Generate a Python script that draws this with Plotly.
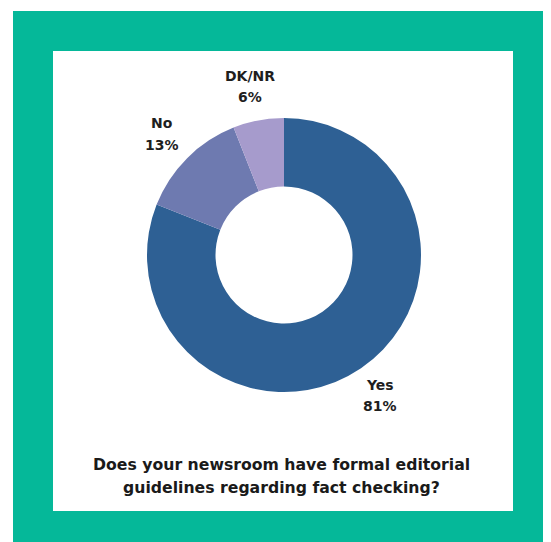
import plotly.graph_objects as go

labels = ["Yes", "No", "DK/NR"]
values = [81, 13, 6]
colors = ["#2e6094", "#6e7ab0", "#a69bcc"]
title_lines = ["Does your newsroom have formal editorial",
               "guidelines regarding fact checking?"]

W, H = 551, 542
OFF = 8  # page body margin offset
# label anchor positions in pixels (center x, y of first line)
label_pos = [(380, 384.5), (162, 123.5), (250, 75.5)]
title_pos = [(281, 464), (281, 487)]

def px(x):
    return (x - OFF) / W

def py(y):
    return (H - (y - OFF)) / H

fig = go.Figure()
fig.add_trace(go.Pie(
    labels=labels, values=values, sort=False, direction="clockwise",
    rotation=0, hole=0.5, textinfo="none", hoverinfo="label+percent",
    marker=dict(colors=colors, line=dict(width=0)),
    domain=dict(x=[px(147), px(421)], y=[py(392), py(118)]),
    showlegend=False,
))

shapes = [
    dict(type="rect", xref="paper", yref="paper", x0=px(13), x1=1.05,
         y0=-0.05, y1=py(11), fillcolor="#05b899", line=dict(width=0), layer="below"),
    dict(type="rect", xref="paper", yref="paper", x0=px(53), x1=px(513),
         y0=py(511), y1=py(51), fillcolor="white", line=dict(width=0), layer="below"),
]

annotations = []
lab_font = dict(family="DejaVu Sans", size=14, color="#1e1e1e", weight="bold")
for lab, val, (x, y) in zip(labels, values, label_pos):
    annotations.append(dict(text=lab, x=px(x), y=py(y), xref="paper", yref="paper",
                            showarrow=False, xanchor="center", yanchor="middle", font=lab_font))
    annotations.append(dict(text=f"{val}%", x=px(x), y=py(y + 21.5), xref="paper", yref="paper",
                            showarrow=False, xanchor="center", yanchor="middle", font=lab_font))
for t, (x, y) in zip(title_lines, title_pos):
    annotations.append(dict(text=t, x=px(x), y=py(y), xref="paper", yref="paper",
                            showarrow=False, xanchor="center", yanchor="middle",
                            font=dict(family="DejaVu Sans", size=15.7, color="#1a1a1a", weight="bold")))

fig.update_layout(
    width=W, height=H, margin=dict(l=0, r=0, t=0, b=0),
    paper_bgcolor="white", plot_bgcolor="white",
    shapes=shapes, annotations=annotations,
)
fig.write_html("out.html")
